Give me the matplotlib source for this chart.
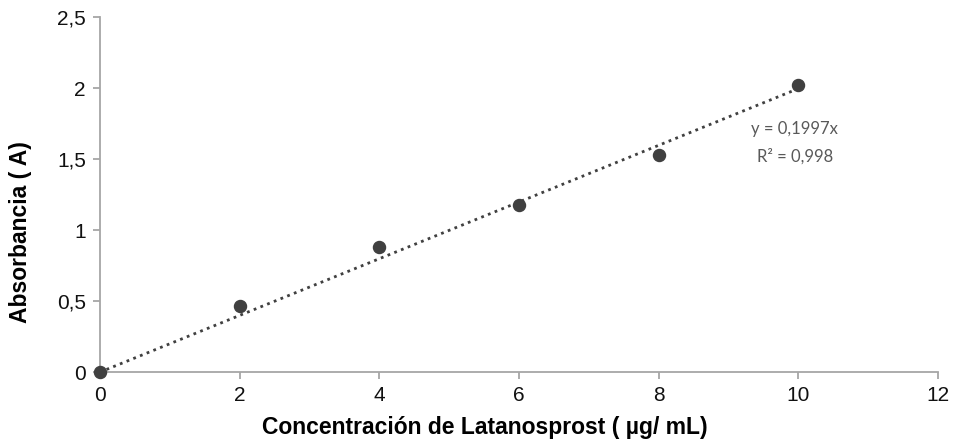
import numpy as np
import matplotlib.pyplot as plt

# Calibration data: concentration (µg/mL) vs absorbance
conc = [0, 2, 4, 6, 8, 10]
absorb = [0.0, 0.466, 0.883, 1.18, 1.53, 2.02]
slope = 0.1997
r2 = 0.998

x_ticks = [0, 2, 4, 6, 8, 10, 12]
y_ticks = [0, 0.5, 1, 1.5, 2, 2.5]
y_tick_labels = ['0', '0,5', '1', '1,5', '2', '2,5']

plt.rcParams['font.family'] = ['Liberation Sans', 'DejaVu Sans']

fig = plt.figure(figsize=(9.6, 4.42), dpi=100)
ax = fig.add_axes([0.104, 0.158, 0.873, 0.803])

# Linear trendline through the origin
xs = np.array([0, 10])
ax.plot(xs, slope * xs, linestyle=(0, (1, 1.6)), color='#404040', linewidth=2, zorder=2)
ax.scatter(conc, absorb, s=75, color='#404040', zorder=3, clip_on=False)

ax.set_xlim(0, 12)
ax.set_ylim(0, 2.5)
ax.set_xticks(x_ticks)
ax.set_yticks(y_ticks)
ax.set_yticklabels(y_tick_labels)

for side in ['top', 'right']:
    ax.spines[side].set_visible(False)
for side in ['left', 'bottom']:
    ax.spines[side].set_color('#a6a6a6')
    ax.spines[side].set_linewidth(1.3)
ax.tick_params(axis='both', direction='out', length=5, width=1.3, color='#a6a6a6',
               labelsize=15, labelcolor='#111111', pad=5)

ax.set_xlabel('Concentración de Latanosprost ( µg/ mL)', fontsize=16.5, fontweight='bold')
ax.set_ylabel('Absorbancia ( A)', fontsize=16.5, fontweight='bold')
ax.xaxis.set_label_coords(0.459, -0.124)
ax.yaxis.set_label_coords(-0.081, 0.395)

eq = f'y = {slope:.4f}x'.replace('.', ',')
rr = f'R² = {r2:.3f}'.replace('.', ',')
ax.text(9.95, 1.71, eq, ha='center', va='center', fontsize=12, color='#595959',
        family=['Lato', 'DejaVu Sans'])
ax.text(9.95, 1.52, rr, ha='center', va='center', fontsize=12, color='#595959',
        family=['Lato', 'DejaVu Sans'])

fig.savefig('out.png', dpi=100)
